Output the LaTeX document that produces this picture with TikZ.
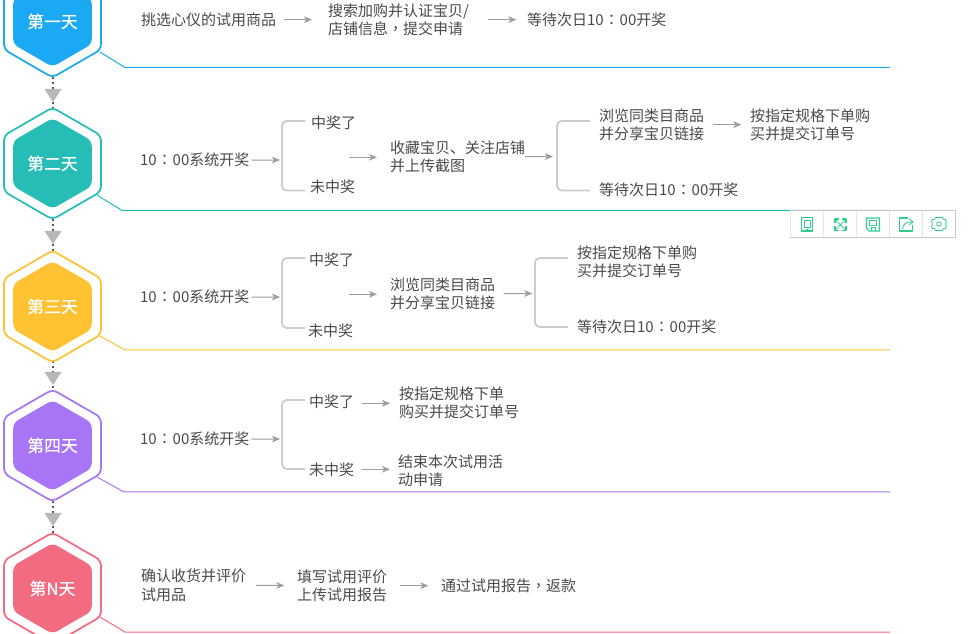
\documentclass[tikz,border=0pt]{standalone}
\usepackage{fontspec}
\setmainfont{Noto Sans CJK SC}
\newfontfamily\tcfont{Noto Sans CJK TC}
\newfontfamily\labfont[FakeBold=0.35]{Noto Sans CJK SC}
\newcommand{\fullcol}{{\tcfont\kern0.4pt ：\kern0.4pt}}
\newcommand{\fullcom}{{\tcfont ，}}
\usetikzlibrary{arrows.meta,shapes.geometric}
\definecolor{cBlue}{HTML}{1AA9F2}
\definecolor{cTeal}{HTML}{25BDB6}
\definecolor{cYellow}{HTML}{FFC233}
\definecolor{cPurple}{HTML}{A875F7}
\definecolor{cPink}{HTML}{F36B80}
\definecolor{cGreen}{HTML}{2ECF8C}
\definecolor{cText}{HTML}{4A4A4A}
\tikzset{
  txt/.style={anchor=west,inner sep=0pt,outer sep=0pt,align=left,text=cText,yshift=-0.5pt,font=\fontsize{11.25}{13.9}\selectfont},
  arr/.style={draw=black!38,line width=0.8pt,-{Stealth[length=6pt,width=5pt,inset=1.6pt]}},
  gap/.style={shorten <=6.5pt,shorten >=6.5pt},
  brk/.style={draw=black!20,line width=1.35pt,rounded corners=3.5pt},
  hexo/.style={regular polygon,regular polygon sides=6,shape border rotate=30,minimum size=84pt,inner sep=0pt,outer sep=0pt,draw=#1,line width=1.3pt,rounded corners=4pt,fill=white},
  hexi/.style={regular polygon,regular polygon sides=6,shape border rotate=30,minimum size=68pt,inner sep=0pt,outer sep=0pt,fill=#1,rounded corners=4pt,text=white,font=\labfont\fontsize{12.6}{15}\selectfont},
  base/.style={draw=#1,line width=0.75pt},
  dots/.style={draw=black!65,line width=1.3pt,dash pattern=on 1.5pt off 2.3pt},
  tip/.style={fill=black!28,draw=none},
  cell/.style={draw=black!10,line width=0.75pt,fill=white},
  ico/.style={draw=cGreen,line width=0.8pt,line join=round}
}
\newcommand{\dayhex}[4]{%
  \node[hexo=#3] (#1o) at (52.5,#2) {};
  \node[hexi=#3] (#1) at (52.5,#2) {\raisebox{1.1pt}{#4}};
}
\begin{document}
\begin{tikzpicture}[x=0.75pt,y=-0.75pt]
\useasboundingbox (0,0) rectangle (979,634);
\clip (0,0) rectangle (979,634);
\fill[white] (0,0) rectangle (979,634);

% connectors between the hexagons (drawn first)
\coordinate (d1) at (53,77);\coordinate (d2) at (53,108);
\coordinate (d3) at (53,219);\coordinate (d4) at (53,252);
\coordinate (d5) at (53,361);\coordinate (d6) at (53,390);
\coordinate (d7) at (53,501);\coordinate (d8) at (53,533);
\draw[dots] (d1)--(d2);\draw[dots] (d3)--(d4);\draw[dots] (d5)--(d6);\draw[dots] (d7)--(d8);
\fill[tip] (44.5,89)--(61.5,89)--(53,102)--cycle;
\fill[tip] (44.5,231)--(61.5,231)--(53,244)--cycle;
\fill[tip] (44.5,372)--(61.5,372)--(53,385)--cycle;
\fill[tip] (44.5,513)--(61.5,513)--(53,526)--cycle;

% base lines
\coordinate (s1) at (100,52);\coordinate (m1) at (125,67.5);\coordinate (e1) at (890,67.5);
\coordinate (s2) at (97,195);\coordinate (m2) at (122,210.5);\coordinate (e2) at (890,210.5);
\coordinate (s3) at (100,336);\coordinate (m3) at (125,350);\coordinate (e3) at (890,350);
\coordinate (s4) at (97,477);\coordinate (m4) at (124,492);\coordinate (e4) at (890,492);
\coordinate (s5) at (100,617);\coordinate (m5) at (125,632);\coordinate (e5) at (890,632);
\draw[base=cBlue] (s1)--(m1)--(e1);
\draw[base=cTeal] (s2)--(m2)--(e2);
\draw[base=cYellow] (s3)--(m3)--(e3);
\draw[base=cPurple] (s4)--(m4)--(e4);
\draw[base=cPink] (s5)--(m5)--(e5);

% hexagons
\dayhex{h1}{21.5}{cBlue}{第一天}
\dayhex{h2}{163.5}{cTeal}{第二天}
\dayhex{h3}{306.5}{cYellow}{第三天}
\dayhex{h4}{445.5}{cPurple}{第四天}
\dayhex{h5}{588.5}{cPink}{第N天}

% day 1
\node[txt] (a1) at (141,19) {挑选心仪的试用商品};
\node[txt] (a2) at (328,19) {搜索加购并认证宝贝/\\店铺信息\fullcom 提交申请};
\node[txt] (a3) at (527,19) {等待次日10\fullcol 00开奖};
\draw[arr,shorten <=6pt,shorten >=12pt] (a1)--(a2);
\draw[arr,shorten <=14pt,shorten >=8pt] (a2)--(a3);

% day 2
\node[txt] (b1) at (140,159.5) {10\fullcol 00系统开奖};
\node[txt] (b2) at (311,122) {中奖了};
\node[txt] (b3) at (310,186) {未中奖};
\node[txt] (b4) at (390,156) {收藏宝贝、关注店铺\\并上传截图};
\node[txt] (b5) at (599,124) {浏览同类目商品\\并分享宝贝链接};
\node[txt] (b6) at (750,124) {按指定规格下单购\\买并提交订单号};
\node[txt] (b7) at (599,189) {等待次日10\fullcol 00开奖};
\coordinate (bt1) at (305,121);\coordinate (bm1) at (282,160);\coordinate (bb1) at (305,190.5);
\coordinate (bt2) at (590,121);\coordinate (bm2) at (557,156.5);\coordinate (bb2) at (590,190.5);
\coordinate (bf1) at (349,157.3);\coordinate (bf2) at (377,157.3);
\draw[brk] (bt1)-|(bm1)|-(bb1);
\draw[brk] (bt2)-|(bm2)|-(bb2);
\draw[arr,shorten <=1.5pt,shorten >=1.5pt] (b1.east)--(bm1);
\draw[arr] (bf1)--(bf2);
\draw[arr,shorten <=0pt,shorten >=3pt] (b4.east)--(bm2);
\draw[arr,gap] (b5)--(b6);

% day 3
\node[txt] (c1) at (140,296.5) {10\fullcol 00系统开奖};
\node[txt] (c2) at (309,259) {中奖了};
\node[txt] (c3) at (308,330) {未中奖};
\node[txt] (c4) at (390,293) {浏览同类目商品\\并分享宝贝链接};
\node[txt] (c5) at (577,261) {按指定规格下单购\\买并提交订单号};
\node[txt] (c6) at (577,326) {等待次日10\fullcol 00开奖};
\coordinate (ct1) at (305,258);\coordinate (cm1) at (282,297);\coordinate (cb1) at (305,328);
\coordinate (ct2) at (568,258);\coordinate (cm2) at (535,293.5);\coordinate (cb2) at (568,327);
\coordinate (cf1) at (349,294.3);\coordinate (cf2) at (377,294.3);
\draw[brk] (ct1)-|(cm1)|-(cb1);
\draw[brk] (ct2)-|(cm2)|-(cb2);
\draw[arr,shorten <=1.5pt,shorten >=1.5pt] (c1.east)--(cm1);
\draw[arr] (cf1)--(cf2);
\draw[arr,shorten <=6.5pt,shorten >=2pt] (c4.east)--(cm2);

% day 4
\node[txt] (d1n) at (140,438.5) {10\fullcol 00系统开奖};
\node[txt] (d2n) at (309,401) {中奖了};
\node[txt] (d3n) at (309,469) {未中奖};
\node[txt] (d4n) at (399,402) {按指定规格下单\\购买并提交订单号};
\node[txt] (d5n) at (398,470) {结束本次试用活\\动申请};
\coordinate (dt1) at (305,400);\coordinate (dm1) at (282,439);\coordinate (db1) at (305,469);
\coordinate (da1) at (362,403.3);\coordinate (da2) at (390,403.3);
\coordinate (da3) at (362,469.3);\coordinate (da4) at (390,469.3);
\draw[brk] (dt1)-|(dm1)|-(db1);
\draw[arr,shorten <=1.5pt,shorten >=1.5pt] (d1n.east)--(dm1);
\draw[arr] (da1)--(da2);
\draw[arr] (da3)--(da4);

% day N
\node[txt] (n1) at (141,584.5) {确认收货并评价\\试用品};
\node[txt] (n2) at (297,585) {填写试用评价\\上传试用报告};
\node[txt] (n3) at (441,585) {通过试用报告\fullcom 返款};
\draw[arr,shorten <=7.5pt,shorten >=9.5pt] (n1)--(n2);
\draw[arr,shorten <=9.5pt,shorten >=9.5pt] (n2)--(n3);

% toolbar
\fill[white] (790.5,210.5) rectangle (955,238);
\foreach \xa in {790.5,823.5,856.5,889.5,922.5}{
  \draw[cell] (\xa,210.5) rectangle ++(33,27.5);
}
\draw[draw=black!22,line width=0.75pt] (790.5,210.5)--(955,210.5)--(955,238)--(790.5,238);
% tablet
\draw[ico] (801.5,217.5) rectangle (812.5,231);
\draw[ico,line width=0.6pt] (804,220) rectangle (810,227);
\draw[ico,line width=0.6pt] (806,229)--(808,229);
% expand
\draw[ico] (835,223)--(835,219)--(839,219);
\draw[ico] (846,223)--(846,219)--(842,219);
\draw[ico] (835,226)--(835,230.5)--(839,230.5);
\draw[ico] (846,226)--(846,230.5)--(842,230.5);
\draw[ico,line width=0.6pt] (835.5,219.5)--(845.5,230);
\draw[ico,line width=0.6pt] (845.5,219.5)--(835.5,230);
% save
\draw[ico] (866.5,218)--(879.5,218)--(879.5,231)--(869,231)--(866.5,228.5)--cycle;
\draw[ico,line width=0.6pt] (869.5,220)rectangle(876.5,225);
\draw[ico,line width=0.6pt] (871,231)--(871,227.5)--(875,227.5)--(875,231);
% share
\draw[ico] (908,218)--(899.5,218)--(899.5,231)--(912.5,231)--(912.5,225);
\draw[ico,line width=0.6pt] (902.5,229)..controls (903,224) and (906,222) ..(912,222);
\draw[ico,line width=0.6pt] (909,219)--(913,222)--(909,225);
% gear
\draw[ico,line width=0.6pt] (939,224) circle (2.2);
\draw[ico,line width=0.6pt] (935.5,217.5)--(942.5,217.5)--(943.5,219.5)--(945.5,219.5)--(946.5,221.5)--(945.5,224)--(946.5,226.5)--(945.5,228.5)--(943.5,228.5)--(942.5,230.5)--(935.5,230.5)--(934.5,228.5)--(932.5,228.5)--(931.5,226.5)--(932.5,224)--(931.5,221.5)--(932.5,219.5)--(934.5,219.5)--cycle;
\end{tikzpicture}
\end{document}
